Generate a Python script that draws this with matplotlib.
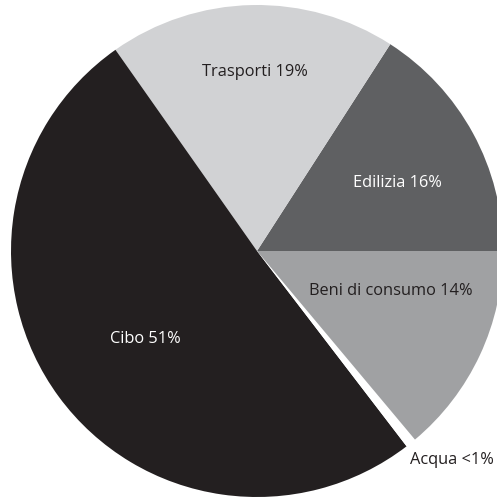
import matplotlib.pyplot as plt

# impronta per settore
labels = ["Edilizia 16%", "Trasporti 19%", "Cibo 51%", "Acqua <1%", "Beni di consumo 14%"]
values = [16, 19, 51, 0.7, 14]
colors = ["#5f6062", "#d1d2d4", "#231f20", "#ffffff", "#a0a1a3"]
text_colors = ["white", "#231f20", "white", "#231f20", "#231f20"]

plt.rcParams['font.family'] = ['Open Sans', 'DejaVu Sans']

fig = plt.figure(figsize=(4.97, 5.02), dpi=100)
ax = fig.add_axes([0, 0, 1, 1])

cx, cy, r = 257, 250, 246
wedges, _ = ax.pie(values, colors=colors, startangle=0, counterclock=True,
                   radius=r, center=(cx, cy), frame=True,
                   wedgeprops=dict(linewidth=0))
ax.set_xlim(0, 497)
ax.set_ylim(0, 502)
ax.set_aspect('equal')
ax.axis('off')

# posizione delle etichette (pixel)
label_pos = [(397, 319), (255, 430), (145, 163), (452, 42), (391, 211)]
for lab, (x, y), c in zip(labels, label_pos, text_colors):
    ax.text(x, y, lab, ha='center', va='center', color=c, fontsize=11.8)

fig.savefig('out.png', dpi=100)
